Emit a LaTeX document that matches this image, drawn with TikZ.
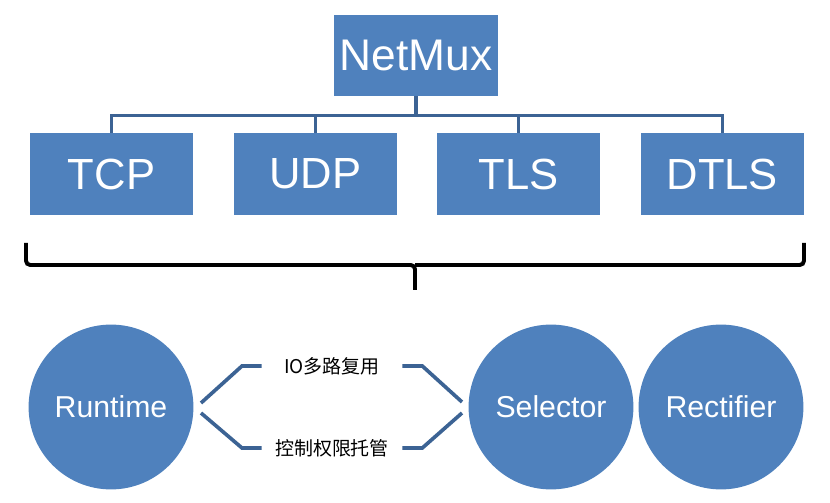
\documentclass[tikz,border=0pt]{standalone}
\usepackage{fontspec}
\setmainfont{Liberation Sans}
\newfontfamily\cjk{Noto Sans CJK SC}
\usetikzlibrary{positioning}
\definecolor{boxblue}{RGB}{79,129,189}
\definecolor{lineblue}{RGB}{60,99,148}

\begin{document}
\begin{tikzpicture}[
x=0.025cm, y=-0.025cm,
node distance=1cm,
block/.style={
	rectangle,
	fill=boxblue,
	text=white,
	inner sep=0pt,
	minimum width=4.075cm,
	minimum height=2.025cm,
	font=\fontsize{31}{35}\selectfont
},
disc/.style={
	circle,
	fill=boxblue,
	text=white,
	inner sep=0pt,
	minimum size=4.12cm,
	font=\fontsize{21.5}{25}\selectfont
},
tag/.style={
	inner sep=0pt,
	minimum width=3.5cm,
	font=\cjk\fontsize{13.5}{16}\selectfont
},
tree/.style={
	draw=lineblue, line width=2.2pt
},
link/.style={
	draw=lineblue, line width=2.6pt
},
brace/.style={
	draw=black, line width=2.8pt, rounded corners=3pt
}
]
\useasboundingbox (0,0) rectangle (830,503);

% Nodes
\node[block, font=\fontsize{31.5}{36}\selectfont] (netmux) at (416,55.5) {NetMux};
\node[block] (tcp) at (111.5,174) {TCP};
\node[block, right=of tcp] (udp) {UDP};
\node[block, right=of udp] (tls) {TLS};
\node[block, right=of tls] (dtls) {DTLS};

\node[disc] (runtime) at (111,407) {Runtime};
\node[disc] (selector) at (551,407) {Selector};
\node[disc] (rectifier) at (721,407) {Rectifier};

\node[tag] (io) at (332,366) {IO多路复用};
\node[tag] (ctrl) at (332,448) {控制权限托管};

\coordinate (rt-up) at (201,403);
\coordinate (rt-dn) at (201,413);
\coordinate (sel-up) at (462,402);
\coordinate (sel-dn) at (462,413);

% Lines
\foreach \n in {tcp,udp,tls,dtls}
	\draw[tree] (netmux.south) -- ++(0,19) -| (\n.north);

\draw[brace] (26,243) -- (26,265) -- (415,265) -- (415,290);
\draw[brace] (415,265) -- (804,265) -- (804,243);

\draw[link] (rt-up) -- ++(41,-37) -- (io.west);
\draw[link] (rt-dn) -- ++(41,35) -- (ctrl.west);
\draw[link] (io.east) -- ++(20,0) -- (sel-up);
\draw[link] (ctrl.east) -- ++(20,0) -- (sel-dn);

\end{tikzpicture}
\end{document}
